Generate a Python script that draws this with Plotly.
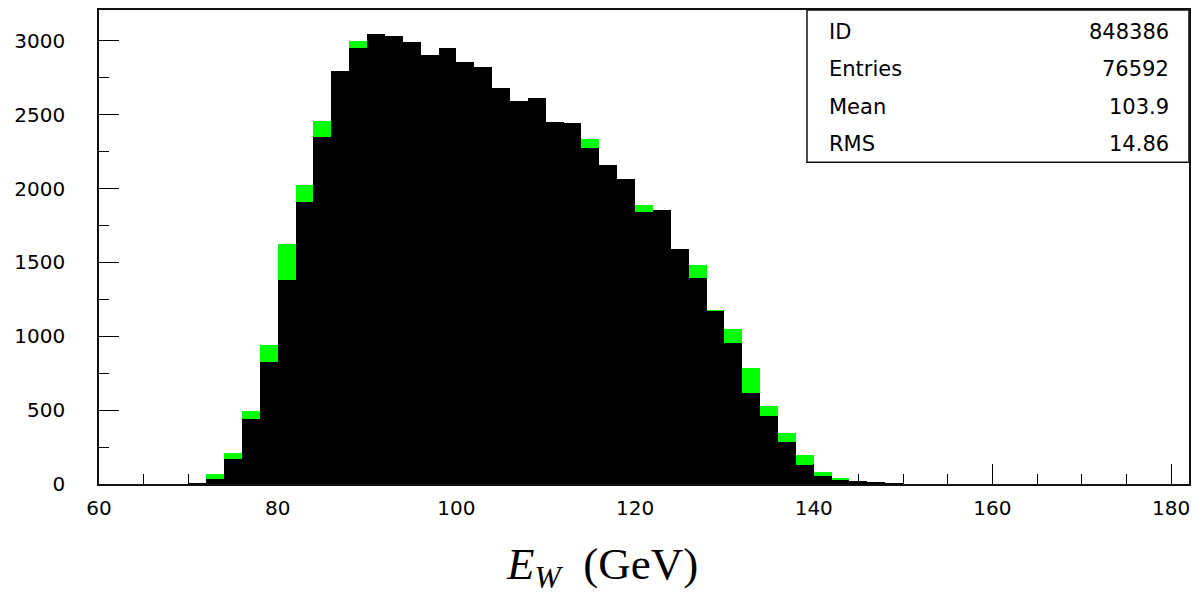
import plotly.graph_objects as go

# Histogram binning (GeV): 2 GeV bins, lower edges from 60 to 180
bin_width = 2
bin_low = list(range(60, 182, 2))

# Reconstructed W energy, black histogram
counts_black = [
    0, 0, 0, 0, 0, 5, 35, 169, 440, 829,
    1379, 1909, 2346, 2797, 2954, 3048, 3030, 2995, 2905, 2954,
    2854, 2820, 2681, 2596, 2614, 2453, 2442, 2278, 2162, 2062,
    1842, 1854, 1592, 1395, 1171, 953, 614, 460, 287, 131,
    52, 30, 18, 9, 6, 0, 0, 0, 0, 0,
    0, 0, 0, 0, 0, 0, 0, 0, 0, 0,
    0,
]

# Comparison sample, green histogram (drawn behind)
counts_green = [
    0, 0, 0, 0, 0, 5, 70, 209, 495, 943,
    1625, 2025, 2458, 2797, 2999, 3048, 3030, 2995, 2905, 2954,
    2854, 2820, 2681, 2596, 2614, 2453, 2442, 2337, 2162, 2062,
    1887, 1854, 1592, 1485, 1181, 1048, 782, 530, 346, 198,
    82, 42, 18, 9, 6, 0, 0, 0, 0, 0,
    0, 0, 0, 0, 0, 0, 0, 0, 0, 0,
    0,
]

# Statistics box contents
stat_names = ["ID", "Entries", "Mean", "RMS"]
stat_values = ["848386", "76592", "103.9", "14.86"]

x_ticks = [60, 80, 100, 120, 140, 160, 180]
y_ticks = [0, 500, 1000, 1500, 2000, 2500, 3000]

bin_centers = [b + bin_width / 2 for b in bin_low]

W, H = 1204, 598
M_L, M_R, M_T, M_B = 99, 15, 8, 114
plot_w = W - M_L - M_R
plot_h = H - M_T - M_B


def px_to_paper_x(px):
    return (px - M_L) / plot_w


def px_to_paper_y(py):
    return (H - M_B - py) / plot_h


fig = go.Figure()
fig.add_trace(go.Bar(
    x=bin_centers, y=counts_green, width=bin_width,
    marker=dict(color="#00ff00", line=dict(width=0)),
    hoverinfo="x+y", showlegend=False,
))
fig.add_trace(go.Bar(
    x=bin_centers, y=counts_black, width=bin_width,
    marker=dict(color="#000000", line=dict(width=0)),
    hoverinfo="x+y", showlegend=False,
))

tick_font = dict(family="DejaVu Sans", size=20, color="#000000")

fig.update_layout(
    width=W, height=H,
    margin=dict(l=M_L, r=M_R, t=M_T, b=M_B, pad=0),
    paper_bgcolor="white", plot_bgcolor="white",
    barmode="overlay", bargap=0,
    showlegend=False,
    xaxis=dict(
        range=[60, 182], tickvals=x_ticks, ticktext=[str(v) for v in x_ticks],
        ticks="inside", ticklen=20, tickwidth=1.2, tickcolor="#000000",
        minor=dict(dtick=5, tick0=60, ticks="inside", ticklen=10,
                   tickwidth=1.2, tickcolor="#000000", showgrid=False),
        showline=True, linecolor="#111111", linewidth=1.5, mirror=True,
        showgrid=False, zeroline=False, tickfont=tick_font,
        ticklabelstandoff=5,
    ),
    yaxis=dict(
        range=[0, 3209], tickvals=y_ticks, ticktext=[str(v) for v in y_ticks],
        ticks="inside", ticklen=20, tickwidth=1.2, tickcolor="#000000",
        minor=dict(dtick=250, tick0=0, ticks="inside", ticklen=10,
                   tickwidth=1.2, tickcolor="#000000", showgrid=False),
        showline=True, linecolor="#111111", linewidth=1.5, mirror=True,
        showgrid=False, zeroline=False, tickfont=tick_font,
        ticklabelstandoff=28,
    ),
)

# Statistics box in the upper right corner
fig.add_shape(
    type="rect", xref="paper", yref="paper",
    x0=px_to_paper_x(807), x1=1.0, y0=px_to_paper_y(161), y1=1.0,
    line=dict(color="#111111", width=1.5), fillcolor="white", layer="above",
)
row_y = [30, 67, 105, 143]
for name, val, yy in zip(stat_names, stat_values, row_y):
    fig.add_annotation(
        text=name, xref="paper", yref="paper",
        x=px_to_paper_x(827), y=px_to_paper_y(yy),
        xanchor="left", yanchor="middle", showarrow=False,
        font=dict(family="DejaVu Sans", size=21, color="#000000"),
    )
    fig.add_annotation(
        text=val, xref="paper", yref="paper",
        x=px_to_paper_x(1171), y=px_to_paper_y(yy),
        xanchor="right", yanchor="middle", showarrow=False,
        font=dict(family="DejaVu Sans", size=21, color="#000000"),
    )

# Axis title
fig.add_annotation(
    text="<i>E</i><sub><i>W</i></sub>&nbsp;&nbsp;(GeV)",
    xref="paper", yref="paper",
    x=px_to_paper_x(602), y=px_to_paper_y(567),
    xanchor="center", yanchor="middle", showarrow=False,
    font=dict(family="Liberation Serif", size=45, color="#000000"),
)

fig.write_html("out.html")
